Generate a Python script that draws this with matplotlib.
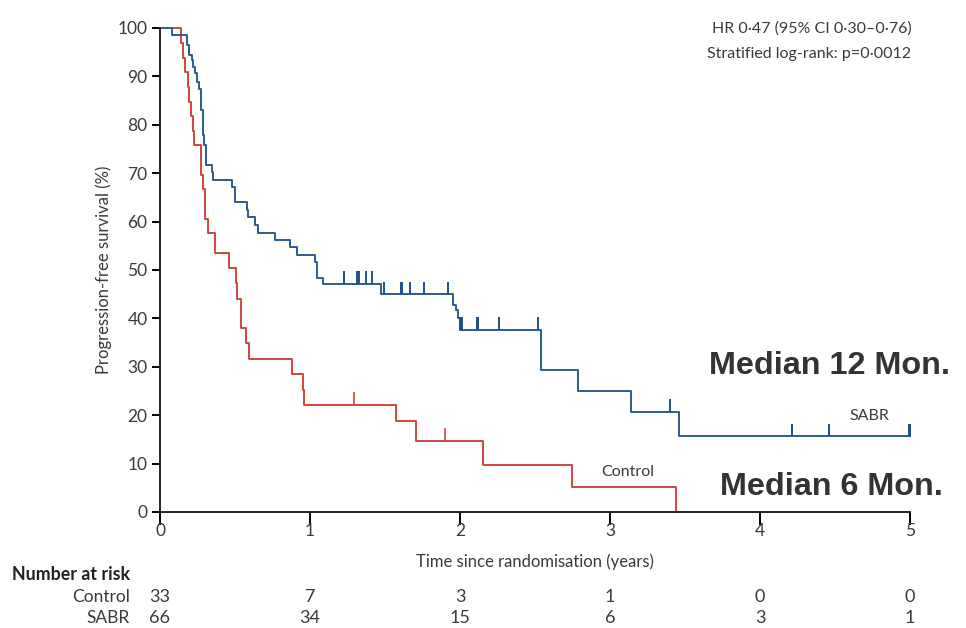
import numpy as np
import matplotlib
matplotlib.use("Agg")
from matplotlib import pyplot as plt
from matplotlib.transforms import blended_transform_factory

# Kaplan-Meier steps: event times (years) and survival level (%) after each step
ctrl_t = [0, 0.14, 0.151, 0.167, 0.185, 0.195, 0.207, 0.218, 0.225, 0.271, 0.285,
          0.30, 0.322, 0.367, 0.458, 0.507, 0.515, 0.538, 0.571, 0.593, 0.878,
          0.951, 0.96, 1.571, 1.705, 2.151, 2.749, 3.438]
ctrl_s = [100, 96.9, 93.9, 90.9, 87.9, 84.8, 81.8, 78.8, 75.8, 69.7, 66.7,
          60.6, 57.6, 53.6, 50.5, 47.3, 44.0, 38.0, 34.9, 31.7, 28.5,
          25.2, 22.2, 18.7, 14.7, 9.8, 5.1, 0]
ctrl_cens = [1.293, 1.9]

sabr_t = [0, 0.082, 0.178, 0.193, 0.211, 0.222, 0.233, 0.244, 0.26, 0.273, 0.289,
          0.296, 0.307, 0.344, 0.351, 0.478, 0.5, 0.578, 0.589, 0.633, 0.655,
          0.767, 0.867, 0.911, 1.033, 1.044, 1.089, 1.473, 1.955, 1.971, 1.985,
          2.0, 2.54, 2.789, 3.14, 3.462]
sabr_s = [100, 98.5, 96.5, 94.4, 93.4, 92.0, 90.6, 88.9, 87.5, 83.1, 77.9,
          75.8, 71.7, 70.3, 68.6, 67.2, 64.1, 62.4, 61.0, 59.3, 57.7,
          56.3, 54.8, 53.0, 51.7, 48.3, 47.1, 45.0, 42.8, 41.7, 40.0,
          37.6, 29.3, 24.9, 20.7, 15.6]
sabr_end = 5.0
sabr_cens = [1.227, 1.311, 1.327, 1.371, 1.416, 1.493, 1.606, 1.616, 1.669, 1.76,
             1.918, 2.002, 2.011, 2.11, 2.12, 2.26, 2.522, 3.4, 4.21, 4.46, 4.995, 5.0]

risk_times = [0, 1, 2, 3, 4, 5]
risk_ctrl = [33, 7, 3, 1, 0, 0]
risk_sabr = [66, 34, 15, 6, 3, 1]

red = "#d2453e"
blue = "#2c5d90"
txt = "#3a3a3a"
font = "Lato"

plt.rcParams['font.family'] = [font, 'DejaVu Sans']

fig = plt.figure(figsize=(9.66, 6.28), dpi=100)
ax = fig.add_axes([160/966, 1-512/628, 750/966, 484/628])


def level_at(t, times, surv):
    i = np.searchsorted(times, t, side='right') - 1
    return surv[i]


ax.step(ctrl_t, ctrl_s, where='post', color=red, lw=1.4, clip_on=False)
ax.step(sabr_t + [sabr_end], sabr_s + [sabr_s[-1]], where='post', color=blue,
        lw=1.4, clip_on=False)

for c in ctrl_cens:
    y = level_at(c, ctrl_t, ctrl_s)
    ax.vlines(c, y, y + 2.6, color=red, lw=1.2)
for c in sabr_cens:
    y = level_at(c, sabr_t, sabr_s)
    ax.vlines(c, y, y + 2.6, color="#1f4f88", lw=1.4, clip_on=False)

ax.set_xlim(0, 5)
ax.set_ylim(0, 100)
ax.set_xticks(range(6))
ax.set_yticks(range(0, 101, 10))
for s in ['top', 'right']:
    ax.spines[s].set_visible(False)
for s in ['left', 'bottom']:
    ax.spines[s].set_linewidth(1.4)
    ax.spines[s].set_color("#222222")
ax.tick_params(axis='y', direction='out', length=6, width=1.4, labelsize=12.5,
               labelcolor=txt, pad=3)
ax.tick_params(axis='x', direction='out', length=9, width=1.4, labelsize=12.5,
               labelcolor=txt, pad=-1)
ax.set_xlabel("Time since randomisation (years)", fontsize=12, color=txt, labelpad=10)
ax.set_ylabel("Progression-free survival (%)", fontsize=12, color=txt, labelpad=4)

ax.text(5.01, 99.8, "HR 0·47 (95% CI 0·30–0·76)", ha='right', va='center',
        fontsize=11.5, color=txt)
ax.text(5.01, 94.6, "Stratified log-rank: p=0·0012", ha='right', va='center',
        fontsize=11.5, color=txt)
ax.text(4.73, 19.8, "SABR", ha='center', va='center', fontsize=11.5, color=txt)
ax.text(3.12, 8.2, "Control", ha='center', va='center', fontsize=11.5, color=txt)

ax.text(5.27, 30.2, "Median 12 Mon.", ha='right', va='center', fontsize=23.3,
        fontweight='bold', family=['Liberation Sans', 'DejaVu Sans'], color="#333333",
        clip_on=False)
ax.text(5.22, 5.2, "Median 6 Mon.", ha='right', va='center', fontsize=23.3,
        fontweight='bold', family=['Liberation Sans', 'DejaVu Sans'], color="#333333",
        clip_on=False)

# number-at-risk table under the axis
tr = blended_transform_factory(ax.transData, fig.transFigure)
fig.text(12/966, 1-575/628, "Number at risk", ha='left', va='center',
         fontsize=12.8, fontweight='bold', color="#222222")
fig.text(130/966, 1-597/628, "Control", ha='right', va='center', fontsize=12.5, color=txt)
fig.text(130/966, 1-618/628, "SABR", ha='right', va='center', fontsize=12.5, color=txt)
for t, c, s in zip(risk_times, risk_ctrl, risk_sabr):
    ax.text(t, 1-597/628, str(c), transform=tr, ha='center', va='center',
            fontsize=13, color=txt)
    ax.text(t, 1-618/628, str(s), transform=tr, ha='center', va='center',
            fontsize=13, color=txt)

fig.savefig("out.png", dpi=100)
